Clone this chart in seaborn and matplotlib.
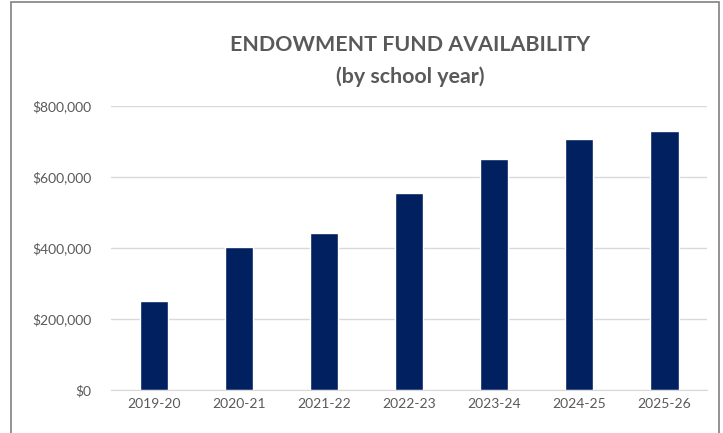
import pandas as pd
import matplotlib.pyplot as plt
import seaborn as sns
from matplotlib.ticker import FuncFormatter
from matplotlib.patches import Rectangle

years = ['2019-20', '2020-21', '2021-22', '2022-23', '2023-24', '2024-25', '2025-26']
funds = [250000, 402000, 442000, 554000, 650000, 706000, 731000]

df = pd.DataFrame({'year': years, 'fund': funds})

sns.set_style('white')
plt.rcParams['font.family'] = ['Lato', 'DejaVu Sans']

fig = plt.figure(figsize=(7.23, 4.33), dpi=100)
ax = fig.add_axes([0.1535, 0.0993, 0.8245, 0.6557])

sns.barplot(data=df, x='year', y='fund', color='#002060', width=0.33, ax=ax, saturation=1)

ax.set_ylim(0, 800000)
ax.set_yticks(range(0, 800001, 200000))
ax.yaxis.set_major_formatter(FuncFormatter(lambda v, p: f'${v:,.0f}'))
ax.yaxis.grid(True, color='#d9d9d9', linewidth=1)
ax.set_axisbelow(True)
ax.set_xlabel('')
ax.set_ylabel('')
for s in ['top', 'right', 'left']:
    ax.spines[s].set_visible(False)
ax.spines['bottom'].set_color('#d9d9d9')
ax.tick_params(axis='both', length=0, labelsize=10, colors='#595959', pad=6)
ax.tick_params(axis='y', pad=14)

# title
fig.text(0.567, 0.895, 'ENDOWMENT FUND AVAILABILITY', ha='center', va='center',
         fontsize=15.4, fontweight='bold', color='#595959')
fig.text(0.567, 0.822, '(by school year)', ha='center', va='center',
         fontsize=15.4, fontweight='bold', color='#595959')

# chart border
fig.patches.append(Rectangle((11 / 723, -0.05), 708 / 723, 1 - 2 / 433 + 0.05,
                             transform=fig.transFigure, fill=False,
                             edgecolor='#808080', linewidth=1.2))

plt.savefig('out.png', dpi=100)
